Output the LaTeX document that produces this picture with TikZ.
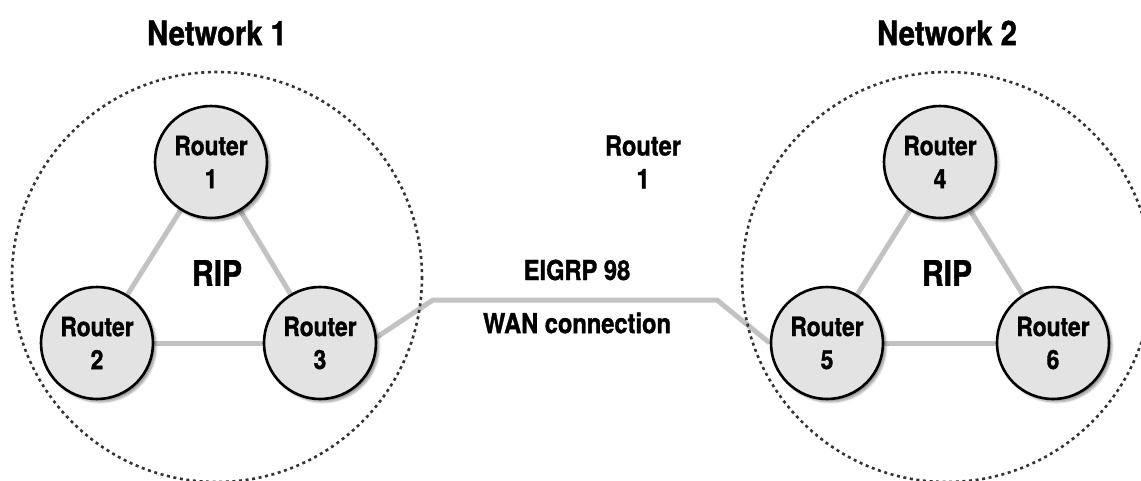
\documentclass[tikz,border=0pt]{standalone}
\usepackage{fontspec}
\setmainfont{TeX Gyre Heros}[FakeStretch=0.86, BoldFeatures={FakeBold=1.2}]
\usetikzlibrary{shadows.blur,backgrounds}

\tikzset{
  router/.style={circle, draw=black, line width=2.6pt, fill=black!11,
    minimum size=112pt, inner sep=0pt, align=center,
    font=\bfseries\fontsize{26.5}{33}\selectfont,
    blur shadow={shadow xshift=3pt, shadow yshift=-3pt, shadow blur steps=6, shadow opacity=40}},
  area/.style={draw=black!80, line width=2.6pt, dash pattern=on 3pt off 3.6pt},
  link/.style={draw=black!24, line width=5pt},
  title/.style={font=\bfseries\fontsize{34}{40}\selectfont},
  proto/.style={font=\bfseries\fontsize{35}{40}\selectfont},
  caption/.style={font=\bfseries\fontsize{27.5}{33}\selectfont, align=center},
}

\begin{document}
\begin{tikzpicture}[x=1pt, y=-1pt]
  \useasboundingbox (0,0) rectangle (1141,480);

  % network boundaries
  \draw[area] (217,277) circle (205);
  \draw[area] (947,277) circle (205);

  % titles
  \node[title] (n1) at (217,33) {Network 1};
  \node[title] (n2) at (947,33) {Network 2};

  % routers of network 1
  \node[router] (r1) at (211,162) {Router\\1};
  \node[router] (r2) at (97,343) {Router\\2};
  \node[router] (r3) at (320,343) {Router\\3};

  % routers of network 2
  \node[router] (r4) at (940,162) {Router\\4};
  \node[router] (r5) at (827,343) {Router\\5};
  \node[router] (r6) at (1053,343) {Router\\6};

  % protocol labels
  \node[proto] (rip1) at (217,273) {RIP};
  \node[proto] (rip2) at (947,273) {RIP};

  % labels of the link between the networks
  \node[caption] (lone) at (643,162) {Router\\1};
  \node[caption] (eig) at (577,270) {EIGRP 98};
  \node[caption] (wan) at (577,323) {WAN connection};

  \coordinate (wa) at (433,300);
  \coordinate (wb) at (717,300);

  \begin{pgfonlayer}{background}
    \draw[link] (r1) -- (r2);
    \draw[link] (r1) -- (r3);
    \draw[link] (r2) -- (r3);
    \draw[link] (r4) -- (r5);
    \draw[link] (r4) -- (r6);
    \draw[link] (r5) -- (r6);
    \draw[link] (r3.6) -- (wa) -- (wb) -- (r5.west);
  \end{pgfonlayer}
\end{tikzpicture}
\end{document}
